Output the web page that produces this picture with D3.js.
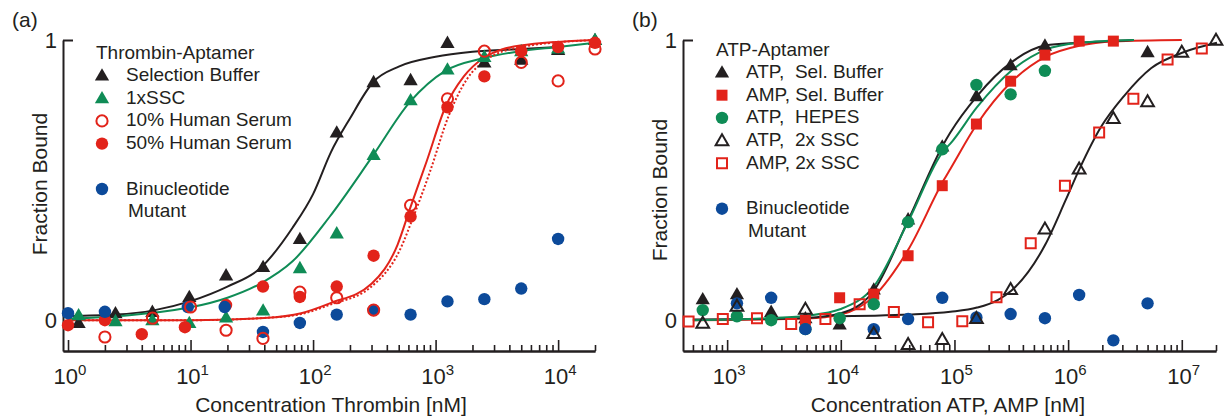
<!DOCTYPE html>
<html>
<head>
<meta charset="utf-8">
<title>Fraction Bound</title>
<script src="https://d3js.org/d3.v7.min.js"></script>
<style>
    body { margin: 0; background: #fff; }
    text { font-family: "Liberation Sans", Arial, sans-serif; fill: #231f20; }
    .axis path, .axis line { stroke: #231f20; }
</style>
</head>
<body>
<svg id="chart" width="1230" height="418"></svg>
<script>
// ---------- panel (a): Thrombin-Aptamer ----------
var selX     = [1.22, 2.44, 4.88, 9.77, 19.5, 39.1, 78.1, 156, 312, 625, 1250, 2500, 5000, 10000, 20000];
var selBuf   = [-0.01, 0.025, 0.03, 0.083, 0.16, 0.19, 0.29, 0.67, 0.85, 0.857, 0.99, 0.92, 0.93, 0.965, 1.0];
var ssc1x    = [0.018, -0.003, 0.0, -0.01, 0.01, 0.035, 0.186, 0.31, 0.59, 0.785, 0.895, 0.94, 0.96, 0.97, 1.0];
var serum50X = [1, 2, 4, 9, 19.5, 39, 78, 156, 312, 625, 1250, 2500, 5000, 10000, 20000];
var serum50  = [-0.018, 0.0, -0.05, -0.025, 0.054, 0.12, 0.083, 0.12, 0.23, 0.37, 0.76, 0.87, 0.96, 0.975, 0.99];
var serum10X = [2, 4.9, 10, 19.5, 39, 78, 156, 312, 625, 1250, 2500, 5000, 10000, 20000];
var serum10  = [-0.06, 0.007, 0.047, -0.036, -0.065, 0.10, 0.08, 0.036, 0.41, 0.79, 0.96, 0.92, 0.854, 0.968];
var mutAX    = [1, 2, 9.5, 19, 39, 78, 156, 312, 625, 1250, 2500, 5000, 10000];
var mutA     = [0.025, 0.03, 0.047, 0.047, -0.042, -0.01, 0.02, 0.036, 0.02, 0.067, 0.075, 0.113, 0.29];

// fitted curves [conc, fraction]
var fitSel = [[1,0.015],[2.5,0.02],[5,0.035],[10,0.068],[20,0.12],[37,0.185],[68,0.33],[100,0.45],[140,0.60],[200,0.72],[310,0.85],[500,0.905],[1000,0.94],[2000,0.958],[5000,0.968],[10000,0.975]];
var fitSsc = [[1,0.005],[10,0.046],[20,0.08],[37,0.13],[68,0.21],[137,0.37],[300,0.58],[620,0.78],[1200,0.89],[2450,0.935],[4900,0.96],[10000,0.975],[20000,0.99]];
var fitSerum = [[1,0.0],[10,0.0],[40,0.008],[80,0.025],[137,0.06],[300,0.13],[490,0.27],[620,0.40],[850,0.57],[1200,0.76],[1700,0.87],[2450,0.935],[4900,0.98],[20000,1.0]];
var fitSerumDot = [[1,0.0],[10,0.0],[40,0.008],[80,0.022],[137,0.055],[300,0.12],[510,0.25],[660,0.37],[900,0.53],[1280,0.73],[1800,0.86],[2600,0.93],[5000,0.975],[20000,1.0]];

// ---------- panel (b): ATP-Aptamer ----------
var atpSelX   = [610, 1220, 2440, 4880, 9770, 19500, 39100, 78100, 156000, 312000, 625000, 5000000];
var atpSel    = [0.075, 0.093, 0.03, 0.007, -0.015, 0.11, 0.36, 0.62, 0.80, 0.91, 0.98, 0.957];
var ampSelX   = [4880, 9770, 19500, 39100, 78100, 156000, 312000, 625000, 1250000, 2500000];
var ampSel    = [0.0, 0.08, 0.093, 0.23, 0.48, 0.70, 0.853, 0.946, 0.996, 0.996];
var atpHepesX = [610, 1220, 2440, 4880, 9770, 19500, 39100, 78100, 156000, 312000, 625000];
var atpHepes  = [0.036, 0.014, 0.0, -0.032, 0.007, 0.057, 0.35, 0.61, 0.84, 0.806, 0.89];
var atpSscX   = [610, 1220, 4880, 19500, 39100, 78100, 156000, 312000, 625000, 1250000, 2500000, 5000000, 10000000, 20000000];
var atpSsc    = [-0.01, 0.05, 0.04, -0.047, -0.086, -0.068, 0.007, 0.11, 0.326, 0.54, 0.72, 0.78, 0.957, 1.0];
var ampSscX   = [458, 916, 1831, 3662, 7324, 14648, 29297, 58594, 117188, 234375, 468750, 937500, 1875000, 3750000, 7500000, 15000000];
var ampSsc    = [-0.005, 0.004, 0.007, -0.014, 0.004, 0.057, 0.029, -0.007, -0.004, 0.082, 0.275, 0.48, 0.67, 0.79, 0.93, 0.97];
var mutBX     = [1220, 2440, 4880, 19500, 39100, 78100, 156000, 312000, 625000, 1250000, 2500000, 5000000];
var mutB      = [0.06, 0.08, -0.032, -0.032, 0.004, 0.08, 0.01, 0.022, 0.007, 0.09, -0.072, 0.06];

var fitAtpSel = [[500,0.002],[2000,0.004],[5000,0.008],[10000,0.025],[19500,0.105],[39000,0.355],[80500,0.63],[92000,0.67],[158000,0.80],[316000,0.92],[630000,0.98],[1260000,0.99],[3800000,1.0]];
var fitHepes  = [[500,0.0],[2000,0.006],[5000,0.016],[10000,0.04],[19500,0.12],[39000,0.35],[80500,0.605],[92000,0.63],[158000,0.76],[316000,0.89],[630000,0.965],[1260000,0.99],[3800000,1.0]];
var fitAmpSel = [[500,0.0],[5000,0.006],[10000,0.02],[19500,0.085],[39000,0.25],[80500,0.50],[92000,0.54],[158000,0.70],[316000,0.85],[630000,0.94],[1260000,0.98],[2500000,0.995],[10000000,1.0]];
var fitAtpSsc = [[10000,0.014],[20000,0.016],[40000,0.02],[92000,0.03],[158000,0.045],[240000,0.072],[316000,0.105],[630000,0.27],[955000,0.43],[1260000,0.54],[1950000,0.69],[3100000,0.80],[5400000,0.90],[10500000,0.957],[20400000,0.99]];

var BLACK = "#231f20", GREEN = "#0f8c56", RED = "#e2231a", BLUE = "#0c4a9a";

var svg = d3.select("#chart");

function zip(xs, ys) { return xs.map(function(v, i) { return [v, ys[i]]; }); }

// marker shapes
function addMarker(g, kind, color, open, cx, cy) {
    if (kind === "circle") {
        g.append("circle").attr("cx", cx).attr("cy", cy)
            .attr("r", open ? 5.6 : 6.2)
            .attr("fill", open ? "none" : color)
            .attr("stroke", open ? color : "none")
            .attr("stroke-width", 2);
    } else {
        var sym = kind === "triangle" ? d3.symbolTriangle : d3.symbolSquare;
        var size = kind === "triangle" ? (open ? 70 : 88) : (open ? 100 : 121);
        g.append("path")
            .attr("d", d3.symbol().type(sym).size(size)())
            .attr("transform", "translate(" + cx + "," + (kind === "triangle" ? cy + 1 : cy) + ")")
            .attr("fill", open ? "none" : color)
            .attr("stroke", open ? color : "none")
            .attr("stroke-width", 2);
    }
}

function drawPanel(p) {
    var x = d3.scaleLog().domain(p.xDomain).range(p.xRange);
    var y = d3.scaleLinear().domain([-0.11, 1]).range([351, 40]);
    var g = svg.append("g");

    // x axis: minor + major ticks pointing up
    var lo = Math.floor(Math.log10(p.xDomain[0])), hi = Math.ceil(Math.log10(p.xDomain[1]));
    var major = [], minor = [];
    for (var k = lo; k <= hi; k++) {
        for (var m = 1; m <= 9; m++) {
            var v = m * Math.pow(10, k);
            if (v < p.xDomain[0] * 1.001 || v > p.xDomain[1] * 1.001) continue;
            if (m === 1) major.push(v); else minor.push(v);
        }
    }
    g.append("g").attr("class", "axis").attr("transform", "translate(0,351)")
        .call(d3.axisBottom(x).tickValues(minor).tickSize(-6).tickSizeOuter(0).tickFormat(""))
        .call(function(a) { a.selectAll("line").attr("stroke-width", 1.6); a.select(".domain").attr("stroke-width", 2); });
    g.append("g").attr("class", "axis").attr("transform", "translate(0,351)")
        .call(d3.axisBottom(x).tickValues(major).tickSize(-11).tickSizeOuter(0).tickFormat(""))
        .call(function(a) { a.selectAll("line").attr("stroke-width", 1.6); a.select(".domain").attr("stroke-width", 2); });

    major.forEach(function(v) {
        var t = g.append("text").attr("x", x(v) + 2).attr("y", 384)
            .attr("text-anchor", "middle").attr("font-size", 22);
        t.append("tspan").text("10");
        t.append("tspan").attr("dy", -9).attr("font-size", 15).text(Math.round(Math.log10(v)));
    });

    // y axis
    g.append("g").attr("class", "axis").attr("transform", "translate(" + p.xRange[0] + ",0)")
        .call(d3.axisLeft(y).tickValues([1]).tickSize(-10).tickSizeOuter(0).tickFormat(""))
        .call(function(a) {
            a.select(".domain").attr("stroke-width", 2);
            a.selectAll("line").attr("stroke-width", 2);
        });
    [0, 1].forEach(function(v) {
        g.append("text").attr("x", p.xRange[0] - 6).attr("y", y(v) + 8)
            .attr("text-anchor", "end").attr("font-size", 22).text(v);
    });

    // titles
    g.append("text").attr("x", p.titleX).attr("y", 412).attr("text-anchor", "middle")
        .attr("font-size", 21).text(p.xTitle);
    g.append("text").attr("transform", "translate(" + p.yTitleX + "," + p.yTitleY + ") rotate(-90)")
        .attr("text-anchor", "middle").attr("font-size", 21).text("Fraction Bound");
    g.append("text").attr("x", p.tagX).attr("y", 27).attr("font-size", 21).text(p.tag);

    // fit curves
    var line = d3.line().x(function(d) { return x(d[0]); }).y(function(d) { return y(d[1]); })
        .curve(d3.curveMonotoneX);
    p.curves.forEach(function(c) {
        g.append("path").attr("d", line(c.data)).attr("fill", "none")
            .attr("stroke", c.color).attr("stroke-width", 2)
            .attr("stroke-dasharray", c.dash || null);
    });

    // data points
    p.series.forEach(function(s) {
        var sg = g.append("g");
        s.data.forEach(function(d) {
            addMarker(sg, s.kind, s.color, s.open, x(d[0]), y(d[1]));
        });
    });

    // legend
    var lg = g.append("g");
    lg.append("text").attr("x", p.legX - 6).attr("y", p.legY).attr("font-size", 19).text(p.legTitle);
    var rowY = p.legY + 22;
    p.legend.forEach(function(e) {
        if (e === null) { rowY += 22.7; return; }
        addMarker(lg, e.kind, e.color, e.open, p.legX, rowY - 5.5);
        lg.append("text").attr("x", p.legX + 24).attr("y", rowY).attr("font-size", 19)
            .style("white-space", "pre").text(e.label);
        rowY += 22.7;
        if (e.label2) {
            lg.append("text").attr("x", p.legX + 26).attr("y", rowY).attr("font-size", 19).text(e.label2);
            rowY += 22.7;
        }
    });
}

drawPanel({
    xDomain: [0.91, 20000], xRange: [63, 595],
    xTitle: "Concentration Thrombin [nM]", titleX: 331,
    yTitleX: 47, yTitleY: 184, tag: "(a)", tagX: 12,
    curves: [
        { data: fitSel, color: BLACK },
        { data: fitSsc, color: GREEN },
        { data: fitSerumDot, color: RED, dash: "2,2" },
        { data: fitSerum, color: RED }
    ],
    series: [
        { data: zip(selX, selBuf), kind: "triangle", color: BLACK },
        { data: zip(selX, ssc1x), kind: "triangle", color: GREEN },
        { data: zip(serum50X, serum50), kind: "circle", color: RED },
        { data: zip(mutAX, mutA), kind: "circle", color: BLUE },
        { data: zip(serum10X, serum10), kind: "circle", color: RED, open: true }
    ],
    legTitle: "Thrombin-Aptamer", legX: 102, legY: 59,
    legend: [
        { label: "Selection Buffer", kind: "triangle", color: BLACK },
        { label: "1xSSC", kind: "triangle", color: GREEN },
        { label: "10% Human Serum", kind: "circle", color: RED, open: true },
        { label: "50% Human Serum", kind: "circle", color: RED },
        null,
        { label: "Binucleotide", label2: "Mutant", kind: "circle", color: BLUE }
    ]
});

drawPanel({
    xDomain: [409, 20000000], xRange: [683, 1216],
    xTitle: "Concentration ATP, AMP [nM]", titleX: 948,
    yTitleX: 667, yTitleY: 190, tag: "(b)", tagX: 632,
    curves: [
        { data: fitAtpSsc, color: BLACK },
        { data: fitAmpSel, color: RED },
        { data: fitAtpSel, color: BLACK },
        { data: fitHepes, color: GREEN }
    ],
    series: [
        { data: zip(ampSscX, ampSsc), kind: "square", color: RED, open: true },
        { data: zip(atpSelX, atpSel), kind: "triangle", color: BLACK },
        { data: zip(ampSelX, ampSel), kind: "square", color: RED },
        { data: zip(atpHepesX, atpHepes), kind: "circle", color: GREEN },
        { data: zip(mutBX, mutB), kind: "circle", color: BLUE },
        { data: zip(atpSscX, atpSsc), kind: "triangle", color: BLACK, open: true }
    ],
    legTitle: "ATP-Aptamer", legX: 722, legY: 56,
    legend: [
        { label: "ATP,  Sel. Buffer", kind: "triangle", color: BLACK },
        { label: "AMP, Sel. Buffer", kind: "square", color: RED },
        { label: "ATP,  HEPES", kind: "circle", color: GREEN },
        { label: "ATP,  2x SSC", kind: "triangle", color: BLACK, open: true },
        { label: "AMP, 2x SSC", kind: "square", color: RED, open: true },
        null,
        { label: "Binucleotide", label2: "Mutant", kind: "circle", color: BLUE }
    ]
});
</script>
</body>
</html>
